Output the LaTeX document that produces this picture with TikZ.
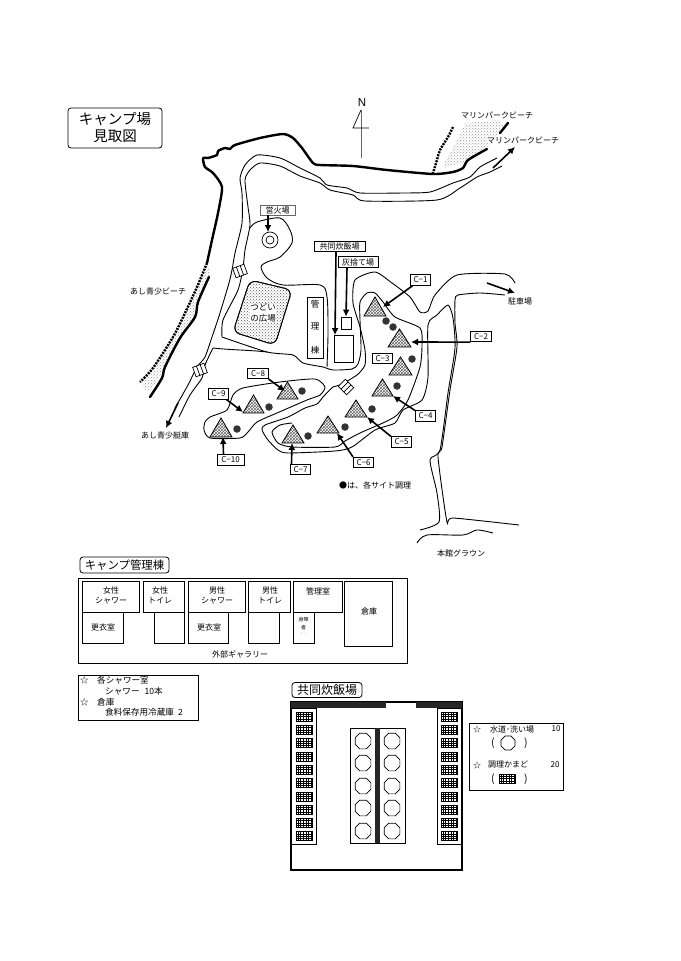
\documentclass[tikz,border=0pt]{standalone}
\usepackage{fontspec}
\setmainfont{Noto Sans CJK JP}
\newfontfamily\latinsans{Liberation Sans}
\usetikzlibrary{arrows.meta,patterns,shapes.geometric}
\tikzset{
  thinline/.style={line width=0.9pt,line join=round},
  coast/.style={line width=2.4pt,line cap=round,line join=round},
  dashcoast/.style={line width=2.4pt,dash pattern=on 2pt off 1.1pt},
  arrowline/.style={line width=1.6pt,-{Latex[length=7pt,width=7pt]}},
  sitelabel/.style={draw,line width=0.7pt,fill=white,font=\fontsize{8}{8}\selectfont,inner sep=0pt,minimum height=10.5pt,minimum width=20.5pt},
  txt/.style={font=\fontsize{8}{9}\selectfont,inner sep=0pt,align=center},
  paren/.style={font=\fontsize{10.5}{11}\selectfont,inner sep=0pt},
  txtnine/.style={font=\fontsize{8.6}{9}\selectfont,inner sep=0pt,anchor=west},
  sand/.style={pattern=crosshatch dots,pattern color=black!65},
  beachsand/.style={pattern=crosshatch dots,pattern color=black!40},
  tent/.style={draw,line width=0.8pt,pattern=crosshatch,pattern color=black!60},
  cook/.style={fill=black!80,draw=none,circle,minimum size=7.5pt,inner sep=0pt},
  octa/.style={draw,line width=0.7pt,fill=white,regular polygon,regular polygon sides=8,minimum size=17pt,inner sep=0pt},
  room/.style={draw,line width=0.8pt,fill=white},
  titlebox/.style={draw,line width=0.8pt,rounded corners=3pt,inner sep=0pt}
}
\newcommand{\grill}[2]{%
  \draw[line width=0.5pt,fill=white] (#1,#2) rectangle (#1+16,#2+9);
  \foreach \gi in {2,4.67,7.33,10,12.67,15}{\draw[line width=0.5pt] (#1+\gi,#2)--(#1+\gi,#2+9);}
  \foreach \gj in {2.25,4.5,6.75}{\draw[line width=0.5pt] (#1,#2+\gj)--(#1+16,#2+\gj);}
}
\newcommand{\brg}[3]{%
  \begin{scope}[shift={(#1,#2)},rotate=#3]
    \draw[line width=0.7pt,fill=white] (-6,-5) rectangle (6,5);
    \draw[line width=0.7pt] (-2,-5)--(-2,5) (2,-5)--(2,5);
  \end{scope}
}
\newcommand{\tentat}[4]{\path[tent] (#1,#2) -- (#3,#4) -- ({2*#1-#3},#4) -- cycle;}
\begin{document}
\begin{tikzpicture}[x=1pt,y=-1pt]
\useasboundingbox (0,0) rectangle (680,961);
% title
\node[titlebox,minimum width=94pt,minimum height=40pt,align=center,font=\fontsize{14.5}{17}\selectfont] (title) at (115,128) {キャンプ場\\見取図};
% north
\draw[line width=0.9pt,black!60] (361,110) -- (361,158);
\draw[line width=0.7pt] (361,110) -- (353,128) -- (369,128);
\node[font=\latinsans\fontsize{11.5}{11.5}\selectfont,inner sep=0pt] (north) at (362,103) {N};
% beach stipple
\fill[beachsand] (465,123) -- (500,120) -- (505,127) -- (487,147) -- (467,162) -- (443,168) -- (445,162) -- (457,140) -- cycle;
\fill[beachsand] plot[smooth,tension=.5] coordinates {(207,262)(197,287)(185,313)(173,337)(153,368)(143,385)(150,390)(165,367)(180,338)(195,317)(198,302)(209,277)(207,262)};
% coast
\draw[coast] plot[smooth,tension=.4] coordinates {(207,263)(212,240)(218,213)(222,187)(213,173)(205,167)(203,158)(208,158)(217,155)(218,151)(225,148)(230,149)(235,145)(260,138)(283,134)(293,138)(302,148)(313,163)(320,165)(353,166)(387,170)(433,174)(453,172)(463,168)(468,160)(487,149)};
\draw[coast] (500,133) -- (508,123);
\draw[dashcoast] plot[smooth,tension=.5] coordinates {(453,127)(448,137)(440,150)(437,160)(433,173)};
\draw[dashcoast] plot[smooth,tension=.5] coordinates {(207,263)(197,287)(185,313)(173,337)(153,368)(140,382)};
\draw[coast] plot[smooth,tension=.5] coordinates {(209,277)(198,302)(195,317)(180,338)(165,367)(162,378)(150,397)};
% roads north
\draw[thinline] plot[smooth,tension=.4] coordinates {(497,158)(480,167)(470,177)(453,183)(430,192)(403,193)(360,193)(347,188)(327,185)(320,178)(300,168)(280,158)(257,155)(245,165)(240,178)(242,193)(242,223)(235,253)(232,270)(229,283)(220,313)(212,337)(205,357)(197,367)(188,385)(175,408)};
\draw[thinline] plot[smooth,tension=.4] coordinates {(502,166)(490,172)(477,177)(460,188)(437,200)(365,201)(353,195)(330,190)(320,183)(300,176)(280,166)(260,163)(250,170)(245,180)(248,207)(250,225)(245,250)(243,268)(238,290)(223,320)(222,337)};
\draw[thinline] plot[smooth,tension=.4] coordinates {(213,348)(205,365)(202,378)(190,395)(179,417)};
% camp pocket
\draw[thinline] plot[smooth,tension=.5] coordinates {(250,228)(257,222)(280,218)(290,230)(292,243)(280,257)(267,262)(261,267)(267,278)(283,285)(320,285)(327,297)(328,333)(327,367)};
% south road
\draw[thinline] plot[smooth,tension=.4] coordinates {(222,337)(267,352)(293,355)(303,363)(323,367)(333,370)(352,369)(358,364)(361,350)(360,320)(360,302)(367,293)(375,293)(383,302)(395,317)(420,328)(422,345)(420,367)(408,400)(397,415)(385,422)(360,433)(345,441)(335,447)(292,447)(278,443)(272,432)(280,425)(292,423)};
\draw[thinline] (213,348) .. controls (230,350) and (250,350) .. (267,352);
\draw[thinline] plot[smooth,tension=.4] coordinates {(515,283)(505,274)(457,275)(435,295)(428,311)(420,312)(410,297)(392,283)(375,272)(355,280)(353,303)(360,327)(365,350)(365,365)(357,375)(340,385)(333,387)(323,397)(317,404)(305,408)(288,417)(265,425)(262,430)(268,440)(278,450)(288,453)(335,451)(352,447)(375,430)(395,423)(403,410)(422,400)(428,377)(428,325)(437,315)(448,305)(453,318)(455,348)(448,393)(440,450)(430,460)(437,493)(439,522)(420,530)};
\draw[thinline] plot[smooth,tension=.4] coordinates {(505,295)(480,293)(458,295)(455,300)(455,323)(457,347)(450,390)(442,447)(438,457)(447,522)(453,518)(519,525)};
\draw[thinline] plot[smooth,tension=.5] coordinates {(417,543)(427,535)(463,535)(477,530)(493,533)};
% site area
\draw[thinline] plot[smooth cycle,tension=.4] coordinates {(205,422)(210,417)(227,410)(233,395)(243,388)(280,382)(315,379)(325,387)(320,395)(307,400)(277,413)(257,422)(248,432)(240,438)(210,438)(204,430)};
% bridges
\brg{240}{271}{20}
\brg{200}{370}{20}
\brg{346}{387}{-45}
% plaza
\draw[line width=0.8pt,sand,rounded corners=7pt] (250,280) -- (292,290) -- (275,345) -- (233,332) -- cycle;
\draw[line width=0.8pt,rounded corners=7pt] (250,280) -- (292,290) -- (275,345) -- (233,332) -- cycle;
\node[txt,fill=white,font=\fontsize{8.5}{11}\selectfont] (plaza) at (263,313) {つどい\\の広場};
% buildings
\draw[room] (307,297) rectangle (323,358);
\node[txt,font=\fontsize{8.5}{9}\selectfont] (kanri1) at (315,304) {管};
\node[txt,font=\fontsize{8.5}{9}\selectfont] (kanri2) at (315,326) {理};
\node[txt,font=\fontsize{8.5}{9}\selectfont] (kanri3) at (315,350) {棟};
\node[room,inner sep=0pt,minimum width=10pt,minimum height=12pt] (ash) at (346,323) {};
\node[room,inner sep=0pt,minimum width=19pt,minimum height=27pt] (kitchen) at (343.5,349) {};
% campfire
\node[draw,circle,line width=0.7pt,minimum size=16pt,inner sep=0pt] (fire) at (270,240) {};
\draw[line width=0.7pt] (fire) circle (4pt);
% tents
\tentat{375}{297}{386}{316}
\tentat{399.5}{329}{411}{347}
\tentat{400.5}{357}{412}{375}
\tentat{382.5}{379}{393}{396}
\tentat{356}{400}{367}{417}
\tentat{328}{416}{339}{433}
\tentat{293}{425}{304}{443}
\tentat{287.5}{382}{298}{399}
\tentat{253.5}{395}{264}{413}
\tentat{221}{418}{232}{437}
% cook dots
\foreach \n/\p in {a/{386,321},b/{393,327},c/{412,359},d/{397,386},e/{372,409},f/{345,427},g/{308,436},h/{302,391},i/{269,407},j/{237,429}}{\node[cook] (dot\n) at (\p) {};}
% arrow targets
\coordinate (t1) at (383,307);
\coordinate (t2) at (411,342);
\coordinate (t4) at (393,396);
\coordinate (t5) at (367,417);
\coordinate (t6) at (337,433);
\coordinate (t7) at (292,443);
\coordinate (t8) at (285,391);
\coordinate (t9) at (243,412);
\coordinate (t10) at (223,437);
% site labels
\node[sitelabel] (c1) at (420.5,280) {C−1};
\node[sitelabel] (c2) at (481,336.5) {C−2};
\node[sitelabel] (c3) at (382.5,358.5) {C−3};
\node[sitelabel] (c4) at (425.5,416) {C−4};
\node[sitelabel] (c5) at (401.5,442) {C−5};
\node[sitelabel] (c6) at (363.5,462.5) {C−6};
\node[sitelabel] (c7) at (300.5,469.5) {C−7};
\node[sitelabel] (c8) at (258,373.5) {C−8};
\node[sitelabel] (c9) at (218.5,394) {C−9};
\node[sitelabel,minimum width=27pt] (c10) at (230.5,460) {C−10};
\draw[arrowline] (c1) -- (t1);
\draw[arrowline] (c2.south west) -- (t2);
\draw[arrowline] (c4.north west) -- (t4);
\draw[arrowline] (c5.north west) -- (t5);
\draw[arrowline] (c6.north west) -- (t6);
\draw[arrowline] ([xshift=-9pt]c7.north) -- (t7);
\draw[arrowline] (c8.south east) -- (t8);
\draw[arrowline] ([xshift=8pt]c9.south) -- (t9);
\draw[arrowline] ([xshift=-7pt]c10.north) -- (t10);
% facility labels
\node[draw,black!60,line width=0.9pt,fill=white,text=black,font=\fontsize{8}{8}\selectfont,inner sep=0pt,minimum width=35pt,minimum height=10pt] (eika) at (277.5,210) {営火場};
\node[sitelabel,minimum width=51pt] (kyodo) at (339.5,246.5) {共同炊飯場};
\node[sitelabel,minimum width=40pt] (hai) at (358,262) {灰捨て場};
\coordinate (teika) at (268,232);
\draw[arrowline] ([xshift=-9.5pt]eika.south) -- (teika);
\draw[arrowline] ([xshift=-3.5pt]kyodo.south) -- ([xshift=-8.5pt]kitchen.north);
\draw[arrowline] ([xshift=-11pt]hai.south) -- (ash.north);
% place labels
\node[txt] (mar1) at (497,115) {マリンパークビーチ};
\node[txt,fill=white] (mar2) at (523,140) {マリンパークビーチ};
\coordinate (mara) at (493,168);
\coordinate (marb) at (515,147);
\draw[arrowline] (mara) -- (marb);
\node[txt] (ashi1) at (158,291) {あし青少ビーチ};
\node[txt] (ashi2) at (165,435) {あし青少艇庫};
\coordinate (teia) at (178,403);
\coordinate (teib) at (166,428);
\draw[arrowline] (teia) -- (teib);
\node[txt] (park) at (520,301) {駐車場};
\coordinate (pa) at (487,283);
\coordinate (pb) at (515,293);
\draw[arrowline] (pa) -- (pb);
\node[txt] (ground) at (461,553) {本館グラウン};
\node[txt] (note) at (375,485) {●は、各サイト調理};
% management building
\node[titlebox,minimum width=89pt,minimum height=16pt,font=\fontsize{11.4}{12}\selectfont] (mgmt) at (124.5,565) {キャンプ管理棟};
\draw[line width=0.8pt] (78,578) rectangle (407,663);
\draw[room] (82,612) rectangle (123,643);
\draw[room] (82,581) rectangle (139,612);
\draw[room] (154,612) rectangle (184,643);
\draw[room] (143,581) rectangle (184,612);
\draw[room] (188,612) rectangle (228,643);
\draw[room] (188,581) rectangle (245,612);
\draw[room] (248,612) rectangle (279,643);
\draw[room] (248,581) rectangle (290,612);
\draw[room] (293,612) rectangle (314,643);
\draw[room] (293,581) rectangle (342,612);
\draw[room] (344,581) rectangle (392,646);
\node[txt,font=\fontsize{8}{10}\selectfont] (r1) at (111,595) {女性\\シャワー};
\node[txt,font=\fontsize{8}{10}\selectfont] (r2) at (160,595) {女性\\トイレ};
\node[txt,font=\fontsize{8}{10}\selectfont] (r3) at (217,595) {男性\\シャワー};
\node[txt,font=\fontsize{8}{10}\selectfont] (r4) at (270,595) {男性\\トイレ};
\node[txt] (r5) at (318,591) {管理室};
\node[txt] (r6) at (369,611) {倉庫};
\node[txt] (r7) at (103,627) {更衣室};
\node[txt] (r8) at (209,627) {更衣室};
\node[txt,font=\fontsize{5}{8}\selectfont] (r9) at (303.5,624) {身障\\者};
\node[txt,font=\fontsize{5}{5}\selectfont] (r10) at (303.5,634) {· ·};
\node[txt] (r11) at (240,654) {外部ギャラリー};
% notes
\draw[line width=0.8pt] (78,675) rectangle (198,720);
\node[txtnine] (n1) at (80,680) {☆};
\node[txtnine] (n2) at (97,680) {各シャワー室};
\node[txtnine] (n3) at (105,691) {シャワー\hspace{5pt}10本};
\node[txtnine] (n4) at (80,702) {☆};
\node[txtnine] (n5) at (97,702) {倉庫};
\node[txtnine] (n6) at (105,712) {食料保存用冷蔵庫\hspace{4pt}2};
% cooking hall
\node[titlebox,minimum width=70pt,minimum height=15pt,font=\fontsize{12}{12}\selectfont] (hall) at (327,690) {共同炊飯場};
\draw[line width=1.2pt] (291,702) rectangle (462,870);
\fill[black!85] (291,702) rectangle (386,708);
\fill[black!85] (416,702) rectangle (462,708);
\draw[line width=0.8pt] (291,708) rectangle (316,844);
\draw[line width=0.8pt] (437,708) rectangle (462,844);
\foreach \k in {0,...,9}{\grill{296}{712+13.3*\k}\grill{441}{712+13.3*\k}}
\draw[line width=0.8pt] (350,728) rectangle (405,843);
\fill[black!85] (375,728) rectangle (380,843);
\foreach \k/\yy in {1/741,2/763,3/786,4/808,5/831}{
  \node[octa] (ol\k) at (363,\yy) {};
  \node[octa] (or\k) at (392,\yy) {};
}
% legend
\draw[line width=0.8pt] (469,723) rectangle (563,790);
\node[txt] (l1) at (477,729) {☆};
\node[txt] (l2) at (512,729) {水道･洗い場};
\node[txt] (l3) at (556,729) {10};
\node[paren] (l4) at (493,743) {(};
\node[octa,minimum size=15pt] (l5) at (508,743) {};
\node[paren] (l6) at (526,743) {)};
\node[txt] (l7) at (477,765) {☆};
\node[txt] (l8) at (508,765) {調理かまど};
\node[txt] (l9) at (555,765) {20};
\node[paren] (l10) at (493,779) {(};
\grill{499}{774}
\node[paren] (l11) at (526,779) {)};
\end{tikzpicture}
\end{document}
